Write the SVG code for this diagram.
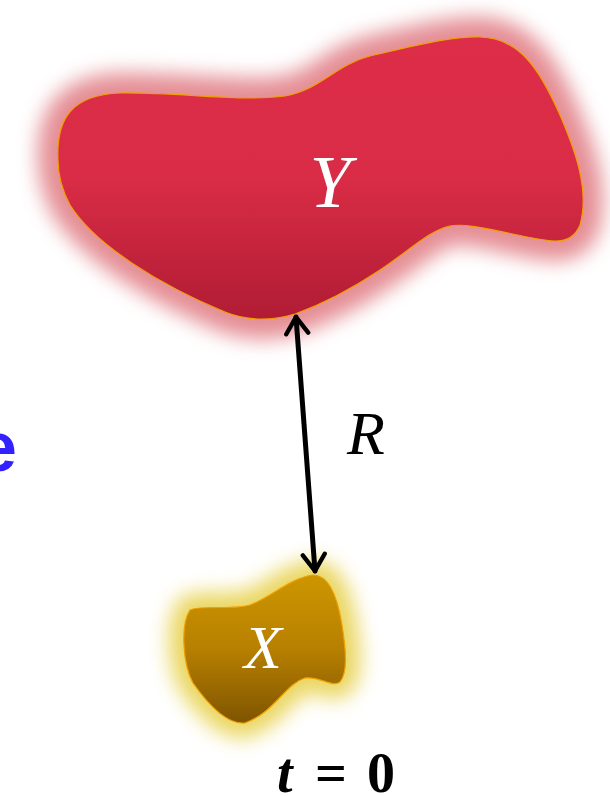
<svg xmlns="http://www.w3.org/2000/svg" width="610" height="796" viewBox="0 0 610 796">
<style>
.lbl{font-family:"Liberation Serif","DejaVu Serif",serif;font-style:italic;}
.w{fill:#ffffff;}
.blob{stroke:#f0a000;stroke-width:1.2;}
.conn{stroke:#000;stroke-width:5;fill:none;stroke-linecap:round;stroke-linejoin:round;}
.t0{font-family:"Liberation Serif",serif;font-weight:bold;font-size:56px;fill:#000;}
</style>
<defs>
<linearGradient id="gy" x1="0" y1="0" x2="0" y2="1">
<stop offset="0" stop-color="#dd2d48"/>
<stop offset="0.5" stop-color="#da2c46"/>
<stop offset="1" stop-color="#b01c34"/>
</linearGradient>
<linearGradient id="gx" x1="0" y1="0" x2="0" y2="1">
<stop offset="0" stop-color="#cc9600"/>
<stop offset="0.5" stop-color="#b88000"/>
<stop offset="1" stop-color="#7e5400"/>
</linearGradient>
<filter id="blur" x="-30%" y="-30%" width="160%" height="160%">
<feGaussianBlur stdDeviation="10"/>
</filter>
<marker id="head" viewBox="0 0 20 20" refX="16" refY="10" markerWidth="5.5" markerHeight="5.5" orient="auto-start-reverse" markerUnits="strokeWidth">
<path d="M4,2 L16,10 L4,18" fill="none" stroke="#000" stroke-width="3.2" stroke-linecap="round" stroke-linejoin="round"/>
</marker>
</defs>
<rect width="610" height="796" fill="#ffffff"/>
<text x="17" y="471" text-anchor="end" font-family="Liberation Sans, Arial, sans-serif" font-weight="bold" font-size="70" fill="#3322ff">e</text>
<g id="nodeY">
<path d="M58,160 C56,118 72,95 120,93 C180,92 240,102 285,96 C320,90 335,65 370,56 C410,47 450,36 480,37 C520,38 540,70 560,115 C575,150 590,190 580,225 C574,240 560,243 545,240 C510,235 470,222 450,226 C430,230 410,250 380,270 C350,290 320,305 295,314 C275,320 250,322 225,312 C160,285 95,245 70,205 C62,190 58,175 58,160 Z" fill="#e07a82" stroke="#e07a82" stroke-width="40" stroke-linejoin="round" filter="url(#blur)" opacity="0.85"/>
<path class="blob" d="M58,160 C56,118 72,95 120,93 C180,92 240,102 285,96 C320,90 335,65 370,56 C410,47 450,36 480,37 C520,38 540,70 560,115 C575,150 590,190 580,225 C574,240 560,243 545,240 C510,235 470,222 450,226 C430,230 410,250 380,270 C350,290 320,305 295,314 C275,320 250,322 225,312 C160,285 95,245 70,205 C62,190 58,175 58,160 Z" fill="url(#gy)"/>
<text class="lbl w" x="330" y="207" text-anchor="middle" font-size="74">Y</text>
</g>
<g id="nodeX">
<path d="M190,610 C200,605 235,610 250,605 C270,598 290,578 313,575 C330,575 338,600 342,625 C346,650 348,672 340,682 C332,688 320,676 305,678 C285,684 275,712 245,723 C225,725 205,700 193,683 C183,665 180,625 190,610 Z" fill="#e8d250" stroke="#e8d250" stroke-width="30" stroke-linejoin="round" filter="url(#blur)" opacity="0.9"/>
<path class="blob" d="M190,610 C200,605 235,610 250,605 C270,598 290,578 313,575 C330,575 338,600 342,625 C346,650 348,672 340,682 C332,688 320,676 305,678 C285,684 275,712 245,723 C225,725 205,700 193,683 C183,665 180,625 190,610 Z" fill="url(#gx)"/>
<text class="lbl w" x="263" y="668" text-anchor="middle" font-size="62">X</text>
</g>
<g id="connectors">
<line class="conn" x1="296" y1="317" x2="315" y2="571" marker-start="url(#head)" marker-end="url(#head)"/>
<text class="lbl" x="366" y="454" text-anchor="middle" font-size="62" fill="#000">R</text>
</g>
<g id="time">
<text class="t0" x="277" y="792" font-style="italic">t</text>
<text class="t0" x="331" y="792" text-anchor="middle" font-size="62">=</text>
<text class="t0" x="367" y="792">0</text>
</g>
</svg>
